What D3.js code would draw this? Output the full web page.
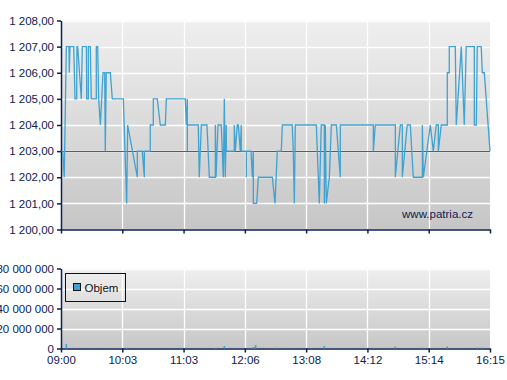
<!DOCTYPE html>
<html><head><meta charset="utf-8">
<script src="https://cdn.jsdelivr.net/npm/d3@7"></script>
<style>
html,body{margin:0;padding:0;background:#fff;}
svg{display:block;font-family:"Liberation Sans",Arial,sans-serif;}
</style></head>
<body><svg id="c" width="507" height="380"></svg>
<script>
// minutes since 09:00
const priceTimes = [1.7,3.3,5.4,8.1,8.4,9.1,12.9,14.2,15.9,16.2,16.9,20.6,21.6,25.7,26.1,27.7,27.7,29.7,30.7,35.8,35.8,37.2,38.2,39.9,42.6,44.3,44.9,45.9,50.0,52.0,63.2,66.6,67.6,77.4,77.4,82.4,84.5,84.5,90.5,90.5,93.6,93.6,97.6,100.7,105.8,106.8,126.0,127.1,128.1,128.1,128.1,139.2,140.2,142.3,148.0,150.4,156.5,156.5,157.2,159.2,162.5,164.6,165.6,166.6,167.6,167.6,175.7,175.7,176.7,178.8,179.8,181.8,182.8,182.8,187.9,187.9,187.9,192.7,194.0,195.0,195.0,198.4,200.1,214.3,217.0,219.3,223.4,224.4,234.5,235.5,236.6,237.6,258.9,261.9,263.9,267.0,267.0,268.0,269.0,272.1,274.1,279.2,283.2,283.2,316.7,316.7,318.7,339.0,339.0,344.1,346.1,346.1,351.1,354.2,357.2,366.4,366.4,367.4,374.5,377.5,380.5,382.6,382.6,385.6,391.7,391.7,393.7,393.7,399.8,400.8,405.9,408.9,410.9,419.1,419.1,421.1,422.1,426.1,427.2,429.2,435];
const priceValues = [1203,1202,1207,1207,1206,1207,1207,1205,1205,1207,1207,1205,1207,1207,1205,1205,1207,1207,1205,1205,1207,1207,1205,1204,1206,1206,1203,1206,1206,1205,1205,1201,1204,1202,1203,1203,1202,1203,1203,1204,1204,1205,1205,1204,1204,1205,1205,1204,1205,1203,1204,1204,1202,1204,1204,1202,1202,1204,1202,1204,1204,1202,1205,1202,1204,1203,1203,1204,1203,1204,1204,1203,1204,1203,1203,1202,1203,1203,1202,1203,1201,1201,1202,1202,1201,1203,1203,1204,1204,1203,1201,1204,1204,1201,1204,1204,1201,1204,1201,1202,1204,1204,1202,1204,1204,1203,1204,1204,1202,1204,1204,1202,1204,1204,1202,1202,1204,1202,1204,1203,1204,1204,1203,1204,1204,1206,1206,1207,1207,1204,1207,1204,1207,1207,1204,1204,1207,1207,1206,1206,1203];
const referencePrice = 1203;
const volumeTimes = [5.4,66.6,121,126.8,156.9,165.6,194,195.7,197.4,218.7,267,317.1,339,366.4,391.7,422.1,426.9];
const volumeValues = [4500000,800000,800000,1000000,700000,2500000,1000000,1500000,3500000,800000,2500000,800000,2000000,800000,2000000,1000000,1000000];
const timeTickLabels = ["09:00","10:03","11:03","12:06","13:08","14:12","15:14","16:15"];
const priceTicks = [1200,1201,1202,1203,1204,1205,1206,1207,1208];
const volumeTicks = [0,20000000,40000000,60000000,80000000];
const legendLabel = "Objem";
const watermark = "www.patria.cz";

const navy = "#0b2150", lineCol = "#3fa3d1";
const svg = d3.select("#c");
const left = 61, right = 490;
const x = d3.scaleLinear().domain([0,435]).range([left,right]);
const yP = d3.scaleLinear().domain([1200,1208]).range([229.5,20.5]);
const yV = d3.scaleLinear().domain([0,80000000]).range([348.5,268.5]);
const loc = d3.formatLocale({decimal:",",thousands:"\u00a0",grouping:[3],currency:["",""]});
const fP = loc.format(",.2f"), fV = loc.format(",.0f");
const xTicks = timeTickLabels.map((d,i)=>x.domain()[0]+i*(x.domain()[1]-x.domain()[0])/(timeTickLabels.length-1));

const defs = svg.append("defs");
const g = defs.append("linearGradient").attr("id","bg").attr("x1",0).attr("y1",0).attr("x2",0).attr("y2",1);
g.append("stop").attr("offset","0").attr("stop-color","#efefef");
g.append("stop").attr("offset","1").attr("stop-color","#c6c6c6");

function panel(y, ticks, fmt, showLabels){
  const [b,t] = y.range();
  svg.append("rect").attr("x",left).attr("y",t).attr("width",right-left).attr("height",b-t).attr("fill","url(#bg)");
  svg.append("g").selectAll("line").data(ticks).join("line")
    .attr("x1",left).attr("x2",right).attr("y1",d=>Math.round(y(d))+0.5).attr("y2",d=>Math.round(y(d))+0.5)
    .attr("stroke","#fff").attr("stroke-width",1.3);
  svg.append("g").selectAll("line").data(xTicks.slice(1,-1)).join("line")
    .attr("x1",d=>Math.round(x(d))+0.5).attr("x2",d=>Math.round(x(d))+0.5).attr("y1",t).attr("y2",b)
    .attr("stroke","#fff").attr("stroke-width",1.3);
  const ay = svg.append("g").attr("transform",`translate(${left},0)`)
    .call(d3.axisLeft(y).tickValues(ticks).tickSize(4).tickSizeOuter(0).tickFormat(fmt));
  const ax = svg.append("g").attr("transform",`translate(0,${b})`)
    .call(d3.axisBottom(x).tickValues(xTicks).tickSize(4).tickSizeOuter(0).tickFormat((d,i)=>showLabels?timeTickLabels[i]:""));
  [ay,ax].forEach(a=>{
    a.selectAll("path,line").attr("stroke",navy).attr("stroke-width",1.5);
    a.selectAll("text").attr("fill",navy).style("font-size","11.5px");
  });
  ay.selectAll("text").attr("x",-7);
  ax.selectAll("text").attr("y",7);
}

panel(yP, priceTicks, fP, false);
svg.append("line").attr("x1",left).attr("x2",right)
  .attr("y1",Math.round(yP(referencePrice))+0.5).attr("y2",Math.round(yP(referencePrice))+0.5)
  .attr("stroke","#b3392f").attr("stroke-width",1);
svg.append("path").datum(priceTimes.map((t,i)=>[t,priceValues[i]]))
  .attr("d",d3.line().x(d=>x(d[0])).y(d=>yP(d[1])))
  .attr("fill","none").attr("stroke",lineCol).attr("stroke-width",1.3);
svg.append("text").attr("x",473).attr("y",217.5).attr("text-anchor","end")
  .attr("fill",navy).style("font-size","11.5px").text(watermark);

panel(yV, volumeTicks, fV, true);
svg.append("g").selectAll("rect").data(volumeTimes.map((t,i)=>[t,volumeValues[i]])).join("rect")
  .attr("x",d=>x(d[0])-0.75).attr("width",1.5)
  .attr("y",d=>yV(d[1])).attr("height",d=>yV(0)-yV(d[1])).attr("fill",lineCol);

const lg = svg.append("g");
lg.append("rect").attr("x",65.5).attr("y",273.5).attr("width",60).attr("height",28).attr("fill","none").attr("stroke","#111");
lg.append("rect").attr("x",73.5).attr("y",283.5).attr("width",7).attr("height",7).attr("fill",lineCol).attr("stroke","#111");
lg.append("text").attr("x",84.5).attr("y",292).attr("fill","#111").style("font-size","11.5px").text(legendLabel);
</script></body></html>
